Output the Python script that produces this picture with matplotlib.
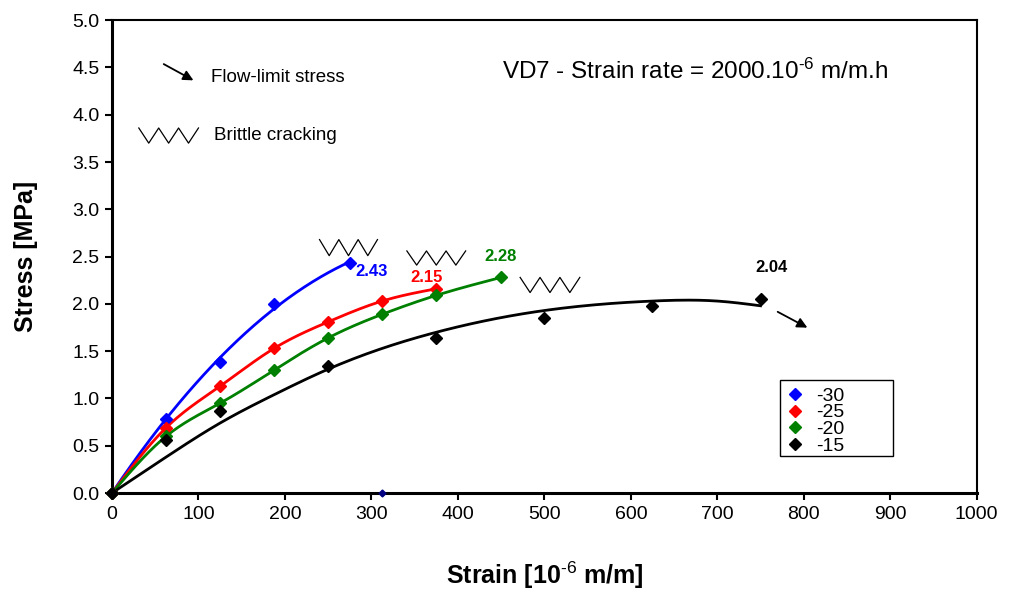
import numpy as np
import matplotlib
matplotlib.use("Agg")
import matplotlib.pyplot as plt
from matplotlib.patches import Rectangle
from matplotlib.lines import Line2D

plt.rcParams['font.family'] = ['Liberation Sans', 'DejaVu Sans']
plt.rcParams['mathtext.fontset'] = 'custom'
plt.rcParams['mathtext.rm'] = 'Liberation Sans'
plt.rcParams['mathtext.it'] = 'Liberation Sans:italic'
plt.rcParams['mathtext.bf'] = 'Liberation Sans:bold'

# ---------------- data ----------------
x_m30 = [0, 62.5, 125, 187.5, 275]
y_m30 = [0, 0.78, 1.39, 2.00, 2.43]

x_m25 = [0, 62.5, 125, 187.5, 250, 312.5, 375]
y_m25 = [0, 0.69, 1.13, 1.53, 1.81, 2.03, 2.16]

x_m20 = [0, 62.5, 125, 187.5, 250, 312.5, 375, 450]
y_m20 = [0, 0.60, 0.95, 1.30, 1.64, 1.89, 2.09, 2.28]

x_m15 = [0, 62.5, 125, 250, 375, 500, 625, 750]
y_m15 = [0, 0.56, 0.87, 1.34, 1.64, 1.85, 1.98, 2.05]

# fitted trend curve for -15
fit_m15_x = [0, 62.5, 125, 187.5, 250, 375, 500, 625, 700, 750]
fit_m15_y = [0, 0.38, 0.74, 1.04, 1.31, 1.70, 1.93, 2.03, 2.03, 1.98]

labels = ['-30', '-25', '-20', '-15']
colors = ['#0000FF', '#FF0000', '#008000', '#000000']
peak_labels = ['2.43', '2.15', '2.28', '2.04']

x_ticks = list(range(0, 1001, 100))
y_ticks = [0.0, 0.5, 1.0, 1.5, 2.0, 2.5, 3.0, 3.5, 4.0, 4.5, 5.0]


def spline(xs, ys, n=200):
    """Natural cubic spline through the points."""
    x = np.asarray(xs, float)
    y = np.asarray(ys, float)
    k = len(x)
    h = np.diff(x)
    A = np.zeros((k, k))
    b = np.zeros(k)
    A[0, 0] = A[-1, -1] = 1
    for i in range(1, k - 1):
        A[i, i - 1] = h[i - 1]
        A[i, i] = 2 * (h[i - 1] + h[i])
        A[i, i + 1] = h[i]
        b[i] = 3 * ((y[i + 1] - y[i]) / h[i] - (y[i] - y[i - 1]) / h[i - 1])
    c = np.linalg.solve(A, b)
    xx = np.linspace(x[0], x[-1], n)
    idx = np.clip(np.searchsorted(x, xx) - 1, 0, k - 2)
    dx = xx - x[idx]
    bb = (y[1:] - y[:-1]) / h - h * (2 * c[:-1] + c[1:]) / 3
    d = (c[1:] - c[:-1]) / (3 * h)
    yy = y[idx] + bb[idx] * dx + c[idx] * dx ** 2 + d[idx] * dx ** 3
    return xx, yy


def quad_fit(xs, ys, n=200):
    """Least-squares quadratic through the origin (trend line)."""
    x = np.asarray(xs, float)
    y = np.asarray(ys, float)
    M = np.column_stack([x, x ** 2])
    coef = np.linalg.lstsq(M, y, rcond=None)[0]
    xx = np.linspace(x[0], x[-1], n)
    return xx, coef[0] * xx + coef[1] * xx ** 2


fig = plt.figure(figsize=(10.09, 5.94), dpi=100)
ax = fig.add_axes([0.111, 0.170, 0.857, 0.796])

cx, cy = quad_fit(x_m30, y_m30)
ax.plot(cx, cy, color=colors[0], lw=2.0, zorder=3)
for (xs, ys), c in zip([(x_m25, y_m25), (x_m20, y_m20)], colors[1:3]):
    cx, cy = spline(xs, ys)
    ax.plot(cx, cy, color=c, lw=2.0, zorder=3)
cx, cy = spline(fit_m15_x, fit_m15_y)
ax.plot(cx, cy, color='black', lw=2.0, zorder=3)

all_series = [(x_m30, y_m30), (x_m25, y_m25), (x_m20, y_m20), (x_m15, y_m15)]
for (xs, ys), c in zip(all_series, colors):
    ax.plot(xs, ys, linestyle='none', marker='D', ms=6, color=c, zorder=4, clip_on=False)

# stray small marker on the axis
ax.plot([312.5], [0], linestyle='none', marker='D', ms=3.5, color='#000080', clip_on=False, zorder=5)

# peak value labels
ax.text(282, 2.34, peak_labels[0], color=colors[0], fontsize=12, fontweight='bold', ha='left', va='center')
ax.text(364, 2.28, peak_labels[1], color=colors[1], fontsize=12, fontweight='bold', ha='center', va='center')
ax.text(449, 2.50, peak_labels[2], color=colors[2], fontsize=12, fontweight='bold', ha='center', va='center')
ax.text(763, 2.39, peak_labels[3], color=colors[3], fontsize=12, fontweight='bold', ha='center', va='center')


def zigzag(x0, x1, ytop, ybot):
    xs = np.linspace(x0, x1, 7)
    ys = [ytop if i % 2 == 0 else ybot for i in range(7)]
    ax.plot(xs, ys, color='black', lw=0.9, clip_on=False, zorder=3)


zigzag(240, 307, 2.68, 2.51)
zigzag(341, 409, 2.56, 2.41)
zigzag(472, 541, 2.28, 2.12)
zigzag(31, 100, 3.86, 3.70)

# arrows
ax.annotate('', xy=(97, 4.35), xytext=(57, 4.55),
            arrowprops=dict(arrowstyle='-|>', color='black', lw=1.3, mutation_scale=15))
ax.annotate('', xy=(807, 1.735), xytext=(767, 1.93),
            arrowprops=dict(arrowstyle='-|>', color='black', lw=1.3, mutation_scale=15))

ax.text(115, 4.39, 'Flow-limit stress', fontsize=13.5, ha='left', va='center')
ax.text(118, 3.78, 'Brittle cracking', fontsize=13.5, ha='left', va='center')
ax.text(451, 4.46, 'VD7 - Strain rate = 2000.10$^{\\text{-6}}$ m/m.h', fontsize=17.5, ha='left', va='center')

ax.set_xlim(0, 1000)
ax.set_ylim(0, 5)
ax.set_xticks(x_ticks)
ax.set_yticks(y_ticks)
ax.set_yticklabels([f'{v:.1f}' for v in y_ticks])
ax.tick_params(direction='out', length=5, width=1.5, labelsize=14, pad=4)
for s in ['left', 'bottom']:
    ax.spines[s].set_linewidth(2.2)
for s in ['top', 'right']:
    ax.spines[s].set_linewidth(1.5)

ax.set_xlabel('Strain [10$^{\\mathbf{\\text{-6}}}$ m/m]', fontsize=18, fontweight='bold')
ax.set_ylabel('Stress [MPa]', fontsize=18, fontweight='bold')
ax.xaxis.set_label_coords(0.5, -0.14)
ax.yaxis.set_label_coords(-0.085, 0.5)

# legend
ax.add_patch(Rectangle((0.772, 0.078), 0.131, 0.161, transform=ax.transAxes,
                       fill=True, facecolor='white', edgecolor='black', lw=1.0, zorder=5))
handles = [Line2D([], [], linestyle='none', marker='D', ms=6, color=c) for c in colors]
leg = ax.legend(handles, labels, loc='upper left', bbox_to_anchor=(0.774, 0.232),
                frameon=False, fontsize=14, labelspacing=-0.05, handlelength=1.0,
                handletextpad=0.6, borderaxespad=0, borderpad=0.2)
leg.set_zorder(6)

fig.savefig('out.png', dpi=100)
